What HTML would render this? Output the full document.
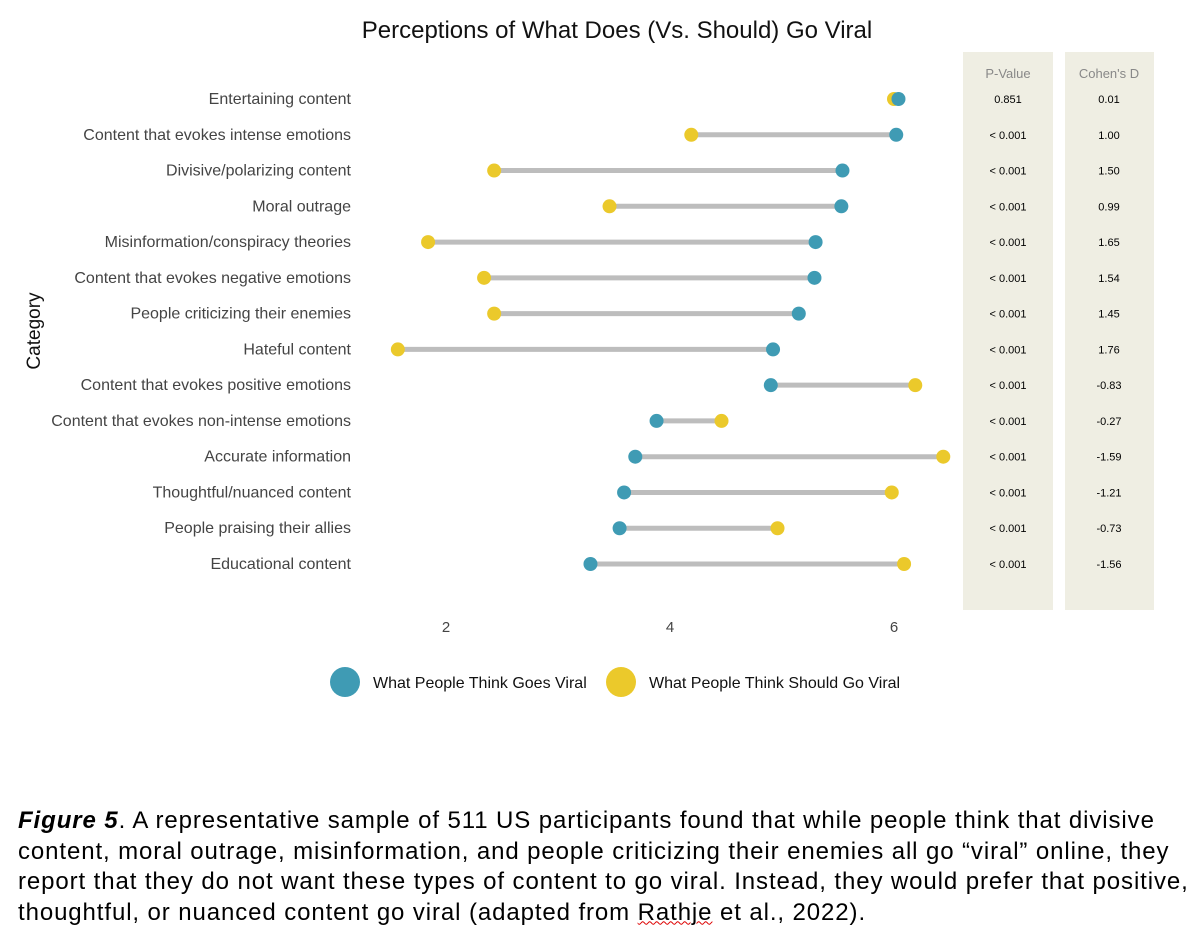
<!DOCTYPE html>
<html><head><meta charset="utf-8">
<style>
body{margin:0;background:#fff;width:1202px;height:946px;overflow:hidden;font-family:"Liberation Sans",sans-serif;}
#cap{position:absolute;left:18px;top:806px;width:1184px;font-size:24px;letter-spacing:0.9px;line-height:30.5px;color:#000;white-space:nowrap;}
</style></head><body>
<svg id="chart" width="1202" height="790" style="position:absolute;left:0;top:0" font-family="Liberation Sans, sans-serif"></svg>
<div id="cap"><b><i>Figure 5</i></b>. A representative sample of 511 US participants found that while people think that divisive<br>content, moral outrage, misinformation, and people criticizing their enemies all go “viral” online, they<br>report that they do not want these types of content to go viral. Instead, they would prefer that positive,<br>thoughtful, or nuanced content go viral (adapted from <span style="text-decoration:underline wavy #d00;text-decoration-thickness:1px">Rathje</span> et al., 2022).</div>
<script>
const categories=["Entertaining content","Content that evokes intense emotions","Divisive/polarizing content","Moral outrage","Misinformation/conspiracy theories","Content that evokes negative emotions","People criticizing their enemies","Hateful content","Content that evokes positive emotions","Content that evokes non-intense emotions","Accurate information","Thoughtful/nuanced content","People praising their allies","Educational content"];
const goesViral=[6.04,6.02,5.54,5.53,5.30,5.29,5.15,4.92,4.90,3.88,3.69,3.59,3.55,3.29];
const shouldViral=[6.0,4.19,2.43,3.46,1.84,2.34,2.43,1.57,6.19,4.46,6.44,5.98,4.96,6.09];
const pValues=["0.851","< 0.001","< 0.001","< 0.001","< 0.001","< 0.001","< 0.001","< 0.001","< 0.001","< 0.001","< 0.001","< 0.001","< 0.001","< 0.001"];
const cohensD=["0.01","1.00","1.50","0.99","1.65","1.54","1.45","1.76","-0.83","-0.27","-1.59","-1.21","-0.73","-1.56"];
const xTicks=[2,4,6];
const svg=document.getElementById('chart');const NS='http://www.w3.org/2000/svg';
function x(v){return 446+(v-2)*112;}
function y(i){return 99+i*35.77;}
function mk(t,a,txt){const e=document.createElementNS(NS,t);for(const k in a)e.setAttribute(k,a[k]);if(txt!==undefined)e.textContent=txt;svg.appendChild(e);return e;}
let e;
e=mk('text',{x:617,y:38,'font-size':24,'text-anchor':'middle',fill:'#111'},'Perceptions of What Does (Vs. Should) Go Viral');


e=mk('rect',{x:963,y:52,width:90,height:558,fill:'#efeee3'});


e=mk('rect',{x:1065,y:52,width:89,height:558,fill:'#efeee3'});


e=mk('text',{x:1008,y:78,'font-size':13,'text-anchor':'middle',fill:'#888'},'P-Value');


e=mk('text',{x:1109,y:78,'font-size':13,'text-anchor':'middle',fill:'#888'},"Cohen's D");


e=mk('text',{x:40,y:331,'font-size':19,'text-anchor':'middle',fill:'#111',transform:'rotate(-90 40 331)'},'Category');


xTicks.forEach(t=>{e=mk('text',{x:x(t),y:632,'font-size':15,'text-anchor':'middle',fill:'#444'},t);

});
categories.forEach((c,i)=>{
 e=mk('text',{x:351,y:y(i)+5,'font-size':16,'text-anchor':'end',fill:'#444'},c);
 
 
 e=mk('line',{x1:x(goesViral[i]),x2:x(shouldViral[i]),y1:y(i),y2:y(i),stroke:'#bdbdbd','stroke-width':5});
 
 
 e=mk('circle',{cx:x(shouldViral[i]),cy:y(i),r:7,fill:'#ebc92b'});
 
 
 e=mk('circle',{cx:x(goesViral[i]),cy:y(i),r:7,fill:'#3f9bb4'});
 
 
 e=mk('text',{x:1008,y:y(i)+4,'font-size':11,'text-anchor':'middle',fill:'#000'},pValues[i]);
 
 
 e=mk('text',{x:1109,y:y(i)+4,'font-size':11,'text-anchor':'middle',fill:'#000'},cohensD[i]);
 
 
});
e=mk('circle',{cx:345,cy:682,r:15,fill:'#3f9bb4'});


e=mk('text',{x:373,y:688,'font-size':16,fill:'#111'},'What People Think Goes Viral');


e=mk('circle',{cx:621,cy:682,r:15,fill:'#ebc92b'});


e=mk('text',{x:649,y:688,'font-size':16,fill:'#111'},'What People Think Should Go Viral');


</script>
</body></html>
